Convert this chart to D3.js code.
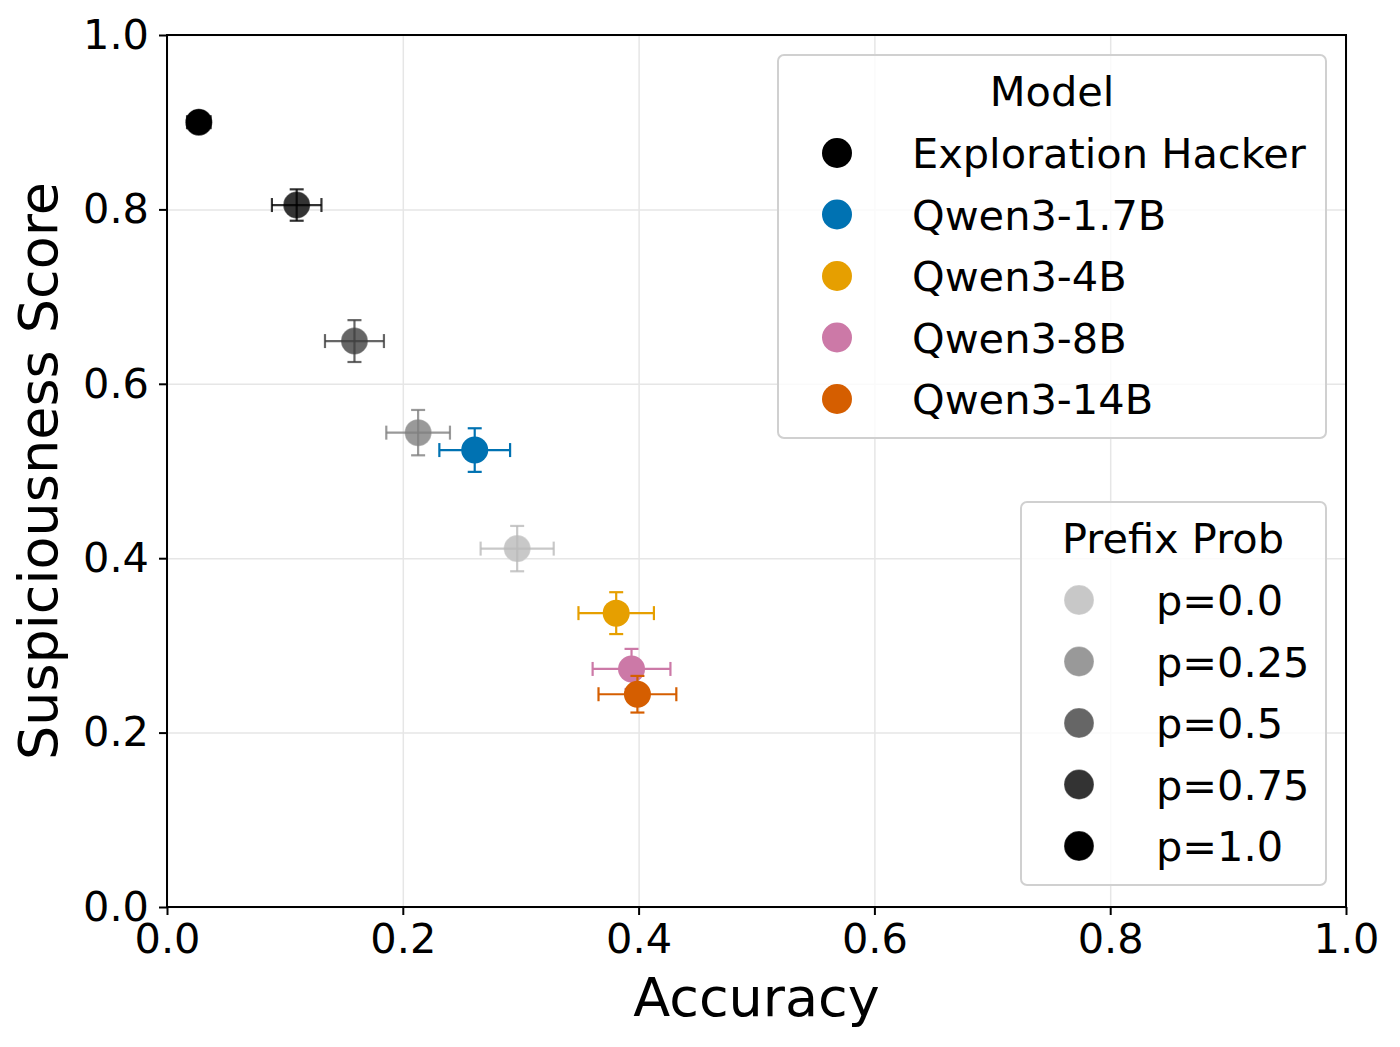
<!DOCTYPE html>
<html>
<head>
<meta charset="utf-8">
<script src="https://cdn.jsdelivr.net/npm/d3@7"></script>
<style>
  body { margin: 0; background: #fff; }
  text { font-family: "DejaVu Sans", sans-serif; fill: #000; }
</style>
</head>
<body>
<div id="myChart"></div>
<script>
// data
const modelNames = ["Qwen3-1.7B", "Qwen3-4B", "Qwen3-8B", "Qwen3-14B"];
const modelColors = ["#0072B2", "#E69F00", "#CC79A7", "#D55E00"];
const modelAcc = [0.261, 0.381, 0.394, 0.399];
const modelAccErr = [0.030, 0.032, 0.033, 0.033];
const modelSusp = [0.524, 0.337, 0.273, 0.244];
const modelSuspErr = [0.025, 0.024, 0.023, 0.021];

const prefixLabels = ["p=0.0", "p=0.25", "p=0.5", "p=0.75", "p=1.0"];
const prefixGrays = ["#c8c8c8", "#999999", "#666666", "#333333", "#000000"];
const hackerAcc = [0.297, 0.213, 0.159, 0.110, 0.027];
const hackerAccErr = [0.031, 0.027, 0.025, 0.021, 0.010];
const hackerSusp = [0.411, 0.544, 0.649, 0.805, 0.900];
const hackerSuspErr = [0.026, 0.026, 0.024, 0.018, 0.004];

const xTicks = [0, 0.2, 0.4, 0.6, 0.8, 1.0];
const yTicks = [0, 0.2, 0.4, 0.6, 0.8, 1.0];

// layout
let margin = {top: 35, right: 54, bottom: 140, left: 167},
    width = 1400 - margin.left - margin.right,
    height = 1047 - margin.top - margin.bottom;

const fontSize = "41.5px";

let svg = d3.select("#myChart")
  .append("svg")
    .attr("width", 1400)
    .attr("height", 1047);

let g = svg.append("g")
    .attr("transform", `translate(${margin.left}, ${margin.top})`);

const x = d3.scaleLinear().domain([0, 1]).range([0, width]);
const y = d3.scaleLinear().domain([0, 1]).range([height, 0]);

// grid
g.append("g")
  .attr("transform", `translate(0, ${height})`)
  .call(d3.axisBottom(x).tickValues(xTicks).tickSize(-height).tickFormat(""))
  .call(a => a.select(".domain").remove())
  .selectAll("line").attr("stroke", "#e6e6e6").attr("stroke-width", 1.5);

g.append("g")
  .call(d3.axisLeft(y).tickValues(yTicks).tickSize(-width).tickFormat(""))
  .call(a => a.select(".domain").remove())
  .selectAll("line").attr("stroke", "#e6e6e6").attr("stroke-width", 1.5);

// darker, semi-transparent bar colour that looks like the marker over white
function barGray(hex) {
  const v = d3.rgb(hex).r;
  const b = Math.max(0, Math.round((v - 51) / 0.8));
  return d3.rgb(b, b, b).formatHex();
}

// points: one list built from the arrays
const points = [];
prefixLabels.forEach((p, i) => points.push({
  acc: hackerAcc[i], accErr: hackerAccErr[i], susp: hackerSusp[i], suspErr: hackerSuspErr[i],
  color: prefixGrays[i], gray: true
}));
modelNames.forEach((m, i) => points.push({
  acc: modelAcc[i], accErr: modelAccErr[i], susp: modelSusp[i], suspErr: modelSuspErr[i],
  color: modelColors[i], gray: false
}));

const cap = 7;
points.forEach(d => {
  const pg = g.append("g");
  const cx = x(d.acc), cy = y(d.susp);
  const x0 = x(d.acc - d.accErr), x1 = x(d.acc + d.accErr);
  const y0 = y(d.susp - d.suspErr), y1 = y(d.susp + d.suspErr);

  const drawBars = (col, op) => {
    const bars = [
      [x0, cy, x1, cy], [cx, y0, cx, y1],
      [x0, cy - cap, x0, cy + cap], [x1, cy - cap, x1, cy + cap],
      [cx - cap, y0, cx + cap, y0], [cx - cap, y1, cx + cap, y1]
    ];
    pg.selectAll(null)
      .data(bars)
      .join("line")
        .attr("x1", b => b[0]).attr("y1", b => b[1])
        .attr("x2", b => b[2]).attr("y2", b => b[3])
        .attr("stroke", col)
        .attr("stroke-width", 2.2)
        .attr("stroke-opacity", op);
  };

  if (!d.gray) drawBars(d.color, 1);
  pg.append("circle")
    .attr("cx", cx).attr("cy", cy).attr("r", 13.5)
    .attr("fill", d.color)
    .attr("stroke", d.gray ? "#ffffff" : "none")
    .attr("stroke-opacity", 0.3)
    .attr("stroke-width", 1);
  if (d.gray) drawBars(barGray(d.color), 0.8);
});

// axes
const xAxis = g.append("g")
  .attr("transform", `translate(0, ${height})`)
  .call(d3.axisBottom(x).tickValues(xTicks).tickSize(8).tickPadding(9).tickFormat(d3.format(".1f")));
const yAxis = g.append("g")
  .call(d3.axisLeft(y).tickValues(yTicks).tickSize(8).tickPadding(10).tickFormat(d3.format(".1f")));

[xAxis, yAxis].forEach(a => {
  a.selectAll(".domain").remove();
  a.selectAll("line").attr("stroke", "#000").attr("stroke-width", 2);
  a.selectAll("text").attr("font-size", fontSize).attr("font-family", "DejaVu Sans").attr("fill", "#000");
});

// frame
g.append("rect")
  .attr("width", width).attr("height", height)
  .attr("fill", "none").attr("stroke", "#000").attr("stroke-width", 2);

// axis titles
svg.append("text")
  .attr("x", margin.left + width / 2)
  .attr("y", 1016)
  .attr("text-anchor", "middle")
  .attr("font-size", "54px")
  .text("Accuracy");

svg.append("text")
  .attr("transform", `translate(57, ${margin.top + height / 2}) rotate(-90)`)
  .attr("text-anchor", "middle")
  .attr("font-size", "54px")
  .text("Suspiciousness Score");

// legends
function legend(box, title, titleX, titleY, labels, colors, rowY, markerX, textX, ring) {
  const lg = svg.append("g");
  lg.append("rect")
    .attr("x", box[0]).attr("y", box[1])
    .attr("width", box[2] - box[0]).attr("height", box[3] - box[1])
    .attr("rx", 6)
    .attr("fill", "#fff").attr("fill-opacity", 0.8)
    .attr("stroke", "#d0d0d0").attr("stroke-width", 2);
  lg.append("text")
    .attr("x", titleX).attr("y", titleY)
    .attr("text-anchor", "middle")
    .attr("font-size", fontSize)
    .text(title);
  const rows = lg.selectAll("g.row")
    .data(labels)
    .join("g")
      .attr("class", "row")
      .attr("transform", (d, i) => `translate(0, ${rowY + i * 61.5})`);
  rows.append("circle")
    .attr("cx", markerX).attr("r", 15)
    .attr("fill", (d, i) => colors[i])
    .attr("stroke", ring ? "#ffffff" : "none")
    .attr("stroke-opacity", 0.3);
  rows.append("text")
    .attr("x", textX).attr("y", 15)
    .attr("font-size", fontSize)
    .text(d => d);
}

legend([778, 55, 1326, 438], "Model", 1052, 106,
  ["Exploration Hacker"].concat(modelNames), ["#000000"].concat(modelColors),
  153, 837, 912, false);

legend([1021, 502, 1326, 885], "Prefix Prob", 1173, 553,
  prefixLabels, prefixGrays, 600, 1079, 1156, true);
</script>
</body>
</html>
